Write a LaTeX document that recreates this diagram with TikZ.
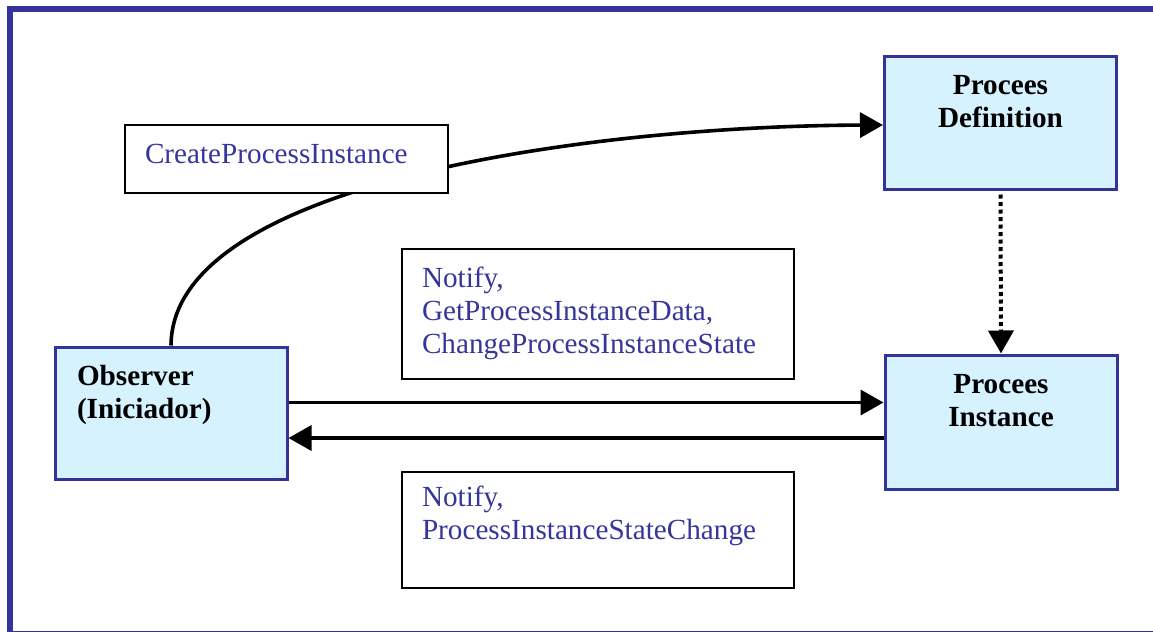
\documentclass[tikz,border=0pt]{standalone}
\usepackage{fontspec}
\setmainfont{Liberation Serif}
\usetikzlibrary{arrows.meta}
\definecolor{frameblue}{HTML}{333399}
\definecolor{boxfill}{HTML}{D5F2FE}
\definecolor{msgtext}{HTML}{36369A}
\tikzset{
  comp/.style={draw=frameblue, line width=1.5pt, fill=boxfill, inner sep=0pt, text=black,
    font=\fontsize{14.6}{16.75}\selectfont\bfseries},
  msg/.style={draw=black, line width=1pt, fill=white, inner sep=0pt, text=msgtext,
    font=\fontsize{14.6}{16.65}\selectfont},
  conn/.style={line width=1.8pt, -{Triangle[length=11.5pt,width=12.5pt]}},
  frame/.style={draw=frameblue, line width=3pt},
}
\begin{document}
\begin{tikzpicture}[x=0.5pt,y=-0.5pt]
\useasboundingbox (0,0) rectangle (1153,632);
\draw[frame] (10,9) rectangle (1200,634);

\node[comp] (def) at (1000.5,122.5) {\parbox[c][66.5pt][t]{116pt}{\centering\rule{0pt}{19pt}Procees\\Definition}};
\node[comp] (inst) at (1001,422) {\parbox[c][67pt][t]{116pt}{\centering\rule{0pt}{19pt}Procees\\Instance}};
\node[comp] (obs) at (171,413) {\parbox[c][66pt][t]{116pt}{\raggedright\leftskip=11pt\rule{0pt}{19pt}Observer\\(Iniciador)}};

\draw[conn] (obs.north) .. controls (172,180) and (600,126) .. (def.west |- 0,125);

\node[msg] (create) at (286.5,159) {\parbox[c][34pt][t]{161.5pt}{\raggedright\leftskip=10pt\rule{0pt}{19pt}CreateProcessInstance}};
\node[msg] (ops) at (598,314) {\parbox[c][65pt][t]{196pt}{\raggedright\leftskip=10pt\rule{0pt}{19pt}Notify,\\GetProcessInstanceData,\\ChangeProcessInstanceState}};
\node[msg] (events) at (598,530) {\parbox[c][58pt][t]{196pt}{\raggedright\leftskip=10pt\rule{0pt}{17.3pt}Notify,\\ProcessInstanceStateChange}};

\draw[conn, dash pattern=on 2pt off 1.75pt, line width=2pt] ([yshift=-2pt]def.south) -- (inst.north);
\draw[conn] (obs.east |- 0,402.5) -- (inst.west |- 0,402.5);
\draw[conn] (inst.west |- 0,438) -- (obs.east |- 0,438);
\end{tikzpicture}
\end{document}
